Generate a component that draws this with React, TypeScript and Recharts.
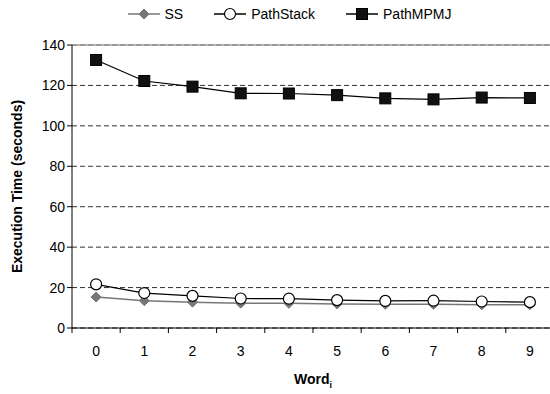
import React from "react";
import {
  CartesianGrid,
  Label,
  Legend,
  Line,
  LineChart,
  ReferenceLine,
  XAxis,
  YAxis
} from "recharts";

const words = [0, 1, 2, 3, 4, 5, 6, 7, 8, 9];
const ssTimes = [15.3, 13.5, 12.8, 12.3, 12.2, 11.9, 11.7, 11.7, 11.5, 11.5];
const pathStackTimes = [21.6, 17.3, 15.9, 14.6, 14.5, 13.8, 13.4, 13.5, 13.1, 12.8];
const pathMpmjTimes = [132.6, 122.2, 119.4, 116.1, 116.0, 115.2, 113.6, 113.1, 114.0, 113.8];
const yTicks = [0, 20, 40, 60, 80, 100, 120, 140];
const bandEdges = [-0.5, 0.5, 1.5, 2.5, 3.5, 4.5, 5.5, 6.5, 7.5, 8.5, 9.5];
const xTicks = [...bandEdges, ...words].sort((a, b) => a - b);

const data = words.map((w, i) => ({
  word: w,
  ss: ssTimes[i],
  pathStack: pathStackTimes[i],
  pathMpmj: pathMpmjTimes[i]
}));

const font = "'Liberation Sans', Arial, sans-serif";
const tickStyle = { fontSize: 14, fill: "#000", fontFamily: font };

const Diamond = (props: any) => {
  const { cx, cy } = props;
  if (cx == null || cy == null) return null;
  const r = 5;
  return (
    <path
      d={`M${cx},${cy - r}L${cx + r},${cy}L${cx},${cy + r}L${cx - r},${cy}Z`}
      fill="#777"
      stroke="#777"
    />
  );
};

const Square = (props: any) => {
  const { cx, cy } = props;
  if (cx == null || cy == null) return null;
  return <rect x={cx - 5.5} y={cy - 5.5} width={11} height={11} fill="#111" stroke="#000" />;
};

const Circle = (props: any) => {
  const { cx, cy } = props;
  if (cx == null || cy == null) return null;
  return <circle cx={cx} cy={cy} r={5.5} fill="#fff" stroke="#000" strokeWidth={1.2} />;
};

const XTick = (props: any) => {
  const { x, y, payload } = props;
  const v = payload.value;
  if (Number.isInteger(v)) {
    return (
      <text x={x} y={y + 28} textAnchor="middle" fontFamily={font} fontSize={14} fill="#000">
        {v}
      </text>
    );
  }
  return <line x1={x} y1={y} x2={x} y2={y + 5} stroke="#000" />;
};

const legendItems = [
  { name: "SS", color: "#777", marker: "diamond" },
  { name: "PathStack", color: "#000", marker: "circle" },
  { name: "PathMPMJ", color: "#000", marker: "square" }
];

function LegendContent(): React.ReactElement {
  return (
    <div style={{ display: "flex", justifyContent: "center", gap: 30, fontFamily: font, fontSize: 14 }}>
      {legendItems.map((item) => (
        <div key={item.name} style={{ display: "flex", alignItems: "center" }}>
          <svg width={34} height={14} style={{ marginRight: 4 }}>
            <line x1={1} y1={7} x2={33} y2={7} stroke={item.color} strokeWidth={1.5} />
            {item.marker === "diamond" && <Diamond cx={17} cy={7} />}
            {item.marker === "circle" && <Circle cx={17} cy={7} />}
            {item.marker === "square" && <Square cx={17} cy={7} />}
          </svg>
          <span>{item.name}</span>
        </div>
      ))}
    </div>
  );
}

export default function App(): React.ReactElement {
  return (
    <div
      style={{
        position: "absolute",
        left: 0,
        top: 0,
        width: 550,
        height: 394,
        overflow: "hidden",
        background: "#fff"
      }}
    >
      <LineChart
        width={556}
        height={394}
        data={data}
        margin={{ top: 29, right: 2, bottom: 0, left: 0 }}
      >
        <CartesianGrid vertical={false} stroke="#333" strokeDasharray="5 3" />
        <ReferenceLine y={140} stroke="#999" strokeWidth={1.5} />
        <XAxis
          dataKey="word"
          type="number"
          domain={[-0.5, 9.5]}
          ticks={xTicks}
          tick={<XTick />}
          tickLine={false}
          tickSize={0}
          tickMargin={0}
          axisLine={{ stroke: "#000" }}
          interval={0}
          height={66}
        >
          <Label
            position="insideBottom"
            content={(props: any) => {
              const vb = props.viewBox;
              const x = vb.x + vb.width / 2;
              const y = vb.y + 56;
              return (
                <text x={x} y={y} textAnchor="middle" fontFamily={font} fontSize={14} fontWeight="bold">
                  Word<tspan fontSize={9} dy={4}>i</tspan>
                </text>
              );
            }}
          />
        </XAxis>
        <YAxis
          domain={[0, 140]}
          ticks={yTicks}
          tick={tickStyle}
          tickSize={5}
          tickLine={{ stroke: "#000" }}
          axisLine={{ stroke: "#000" }}
          width={72}
          interval={0}
        >
          <Label
            angle={-90}
            position="insideLeft"
            content={(props: any) => {
              const vb = props.viewBox;
              const cy = vb.y + vb.height / 2;
              return (
                <text
                  x={22}
                  y={cy}
                  transform={`rotate(-90, 22, ${cy})`}
                  textAnchor="middle"
                  fontFamily={font}
                  fontSize={14}
                  fontWeight="bold"
                >
                  Execution Time (seconds)
                </text>
              );
            }}
          />
        </YAxis>
        <Legend
          verticalAlign="top"
          content={LegendContent}
          wrapperStyle={{ top: 6, left: 34, width: 510 }}
        />
        <Line
          dataKey="ss"
          name="SS"
          stroke="#777"
          strokeWidth={1.5}
          dot={<Diamond />}
          isAnimationActive={false}
        />
        <Line
          dataKey="pathStack"
          name="PathStack"
          stroke="#000"
          strokeWidth={1.2}
          dot={<Circle />}
          isAnimationActive={false}
        />
        <Line
          dataKey="pathMpmj"
          name="PathMPMJ"
          stroke="#000"
          strokeWidth={1.2}
          dot={<Square />}
          isAnimationActive={false}
        />
      </LineChart>
    </div>
  );
}
